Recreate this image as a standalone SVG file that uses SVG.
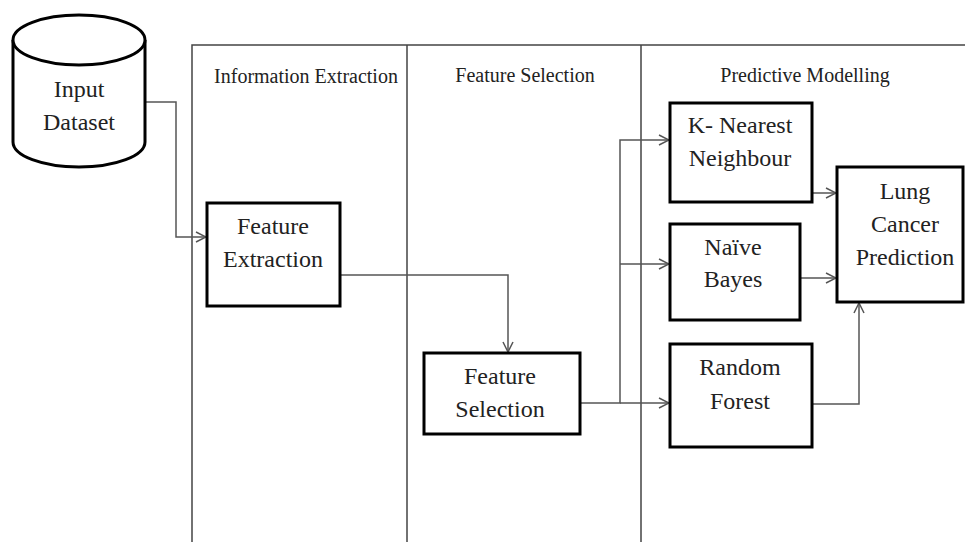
<svg xmlns="http://www.w3.org/2000/svg" width="965" height="542" viewBox="0 0 965 542" font-family="Liberation Serif, Times New Roman, serif">
<style>
.lane{fill:none;stroke:#444;stroke-width:1.5}
.box{fill:#fff;stroke:#000;stroke-width:3}
.conn{fill:none;stroke:#555;stroke-width:1.5}
text{font-family:"Liberation Serif",serif}
.t{font-size:24px;fill:#222;text-anchor:middle}
.h{font-size:20px;fill:#222;text-anchor:middle}
</style>
<defs>
<marker id="arr" viewBox="0 0 12 12" refX="11" refY="6" markerWidth="12" markerHeight="12" markerUnits="userSpaceOnUse" orient="auto">
<path d="M1,1 L11,6 L1,11" fill="none" stroke="#555" stroke-width="1.5"/>
</marker>
</defs>
<rect width="965" height="542" fill="#fff"/>
<g id="lanes">
<path class="lane" d="M192,542 V45 H965 M407,45 V542 M641,45 V542"/>
<text class="h" x="306" y="83" font-family="Liberation Serif">Information Extraction</text>
<text class="h" x="525" y="82" font-family="Liberation Serif">Feature Selection</text>
<text class="h" x="805" y="82" font-family="Liberation Serif">Predictive Modelling</text>
</g>
<g id="connectors">
<path class="conn" d="M145,102 H176 V237 H206" marker-end="url(#arr)"/>
<path class="conn" d="M340,275 H508 V352" marker-end="url(#arr)"/>
<path class="conn" d="M580,403 H620 V140 H669" marker-end="url(#arr)"/>
<path class="conn" d="M620,264 H669" marker-end="url(#arr)"/>
<path class="conn" d="M620,403 H669" marker-end="url(#arr)"/>
<path class="conn" d="M812,193 H836" marker-end="url(#arr)"/>
<path class="conn" d="M800,278 H836" marker-end="url(#arr)"/>
<path class="conn" d="M812,404 H859 V303" marker-end="url(#arr)"/>
</g>
<g id="input-dataset" font-family="Liberation Serif">
<path class="box" d="M13,40 V142 A66,25 0 0 0 145,142 V40"/>
<ellipse class="box" cx="79" cy="40" rx="66" ry="25"/>
<text class="t" x="79" y="97">Input</text>
<text class="t" x="79" y="130">Dataset</text>
</g>
<g id="feature-extraction" font-family="Liberation Serif">
<rect class="box" x="207" y="203" width="133" height="103"/>
<text class="t" x="273" y="234">Feature</text>
<text class="t" x="273" y="267">Extraction</text>
</g>
<g id="feature-selection" font-family="Liberation Serif">
<rect class="box" x="424" y="353" width="156" height="81"/>
<text class="t" x="500" y="384">Feature</text>
<text class="t" x="500" y="417">Selection</text>
</g>
<g id="knn" font-family="Liberation Serif">
<rect class="box" x="670" y="103" width="142" height="99"/>
<text class="t" x="740" y="133">K- Nearest</text>
<text class="t" x="740" y="166">Neighbour</text>
</g>
<g id="naive-bayes" font-family="Liberation Serif">
<rect class="box" x="670" y="224" width="130" height="96"/>
<text class="t" x="733" y="255">Naïve</text>
<text class="t" x="733" y="287">Bayes</text>
</g>
<g id="random-forest" font-family="Liberation Serif">
<rect class="box" x="670" y="344" width="142" height="103"/>
<text class="t" x="740" y="375">Random</text>
<text class="t" x="740" y="409">Forest</text>
</g>
<g id="lung-cancer-prediction" font-family="Liberation Serif">
<rect class="box" x="837" y="167" width="126" height="135"/>
<text class="t" x="905" y="199">Lung</text>
<text class="t" x="905" y="232">Cancer</text>
<text class="t" x="905" y="265">Prediction</text>
</g>
</svg>
